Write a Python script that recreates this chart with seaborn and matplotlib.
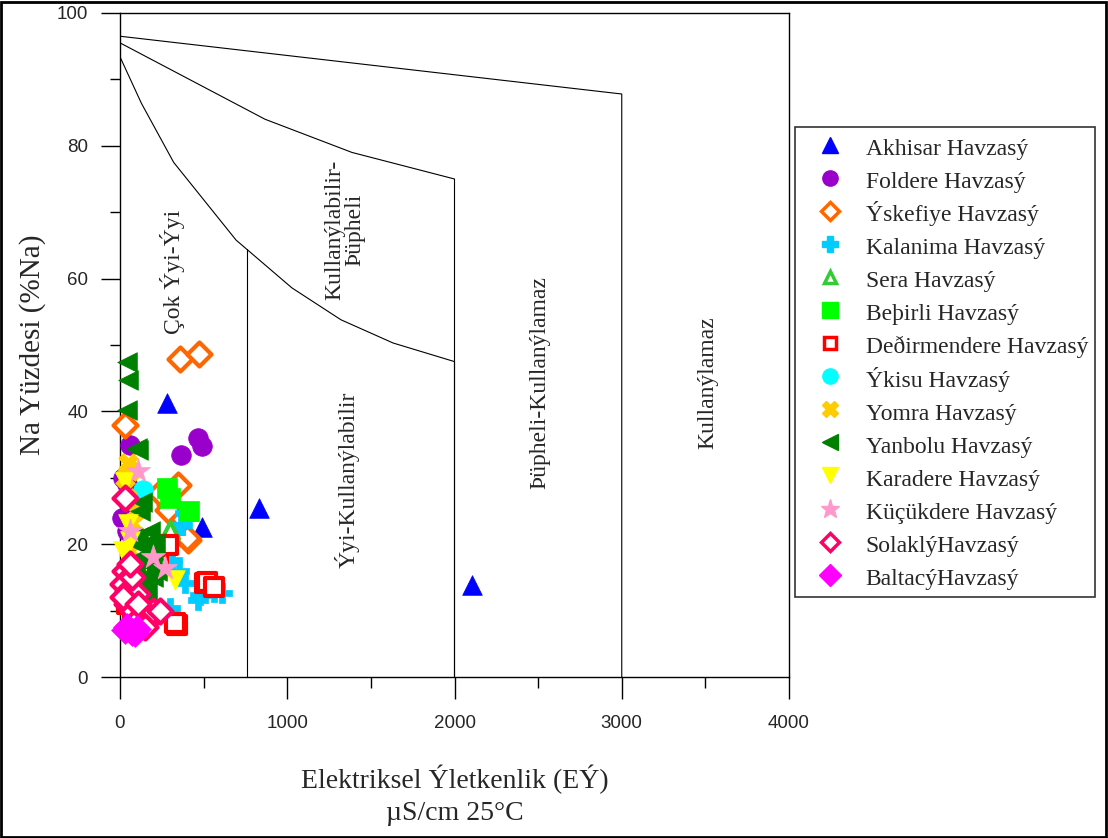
import matplotlib
matplotlib.use("Agg")
import matplotlib.pyplot as plt
import seaborn as sns
from matplotlib.patches import Rectangle
from matplotlib.lines import Line2D

# --- Wilcox boundary lines (EC, %Na) ---
line_top_ec = [0, 3000, 3000]
line_top_na = [96.5, 87.8, 0]
line_mid_ec = [0, 867, 1387, 2000, 2000]
line_mid_na = [95.5, 84, 79, 75, 0]
line_low_ec = [0, 128, 321, 694, 1028, 1321, 1633, 2000, 2000]
line_low_na = [93.4, 86.4, 77.5, 65.8, 58.6, 53.8, 50.3, 47.5, 0]
line_750_ec = [760, 760]
line_750_na = [64.5, 0]

# --- sample data per basin (EC uS/cm, Na %) ---
akhisar_ec = [281, 831, 2105, 490]
akhisar_na = [41.3, 25.4, 13.9, 22.6]

foldere_ec = [365, 466, 490, 60, 40, 30, 40, 20, 60, 10]
foldere_na = [33.4, 36.0, 34.8, 35.0, 29.0, 24.0, 22.0, 30.0, 27.0, 24.0]

iskefiye_ec = [359, 472, 30, 257, 347, 299, 341, 406, 239, 287, 400]
iskefiye_na = [47.9, 48.6, 38.0, 27.7, 28.9, 25.9, 24.7, 20.6, 27.7, 25.2, 20.9]

kalanima_ec = [610, 466, 389, 329, 311, 281, 389, 371, 329, 478, 406, 299, 560, 250, 350]
kalanima_na = [12.6, 11.6, 14.2, 9.0, 17.6, 20.2, 24.7, 22.9, 21.8, 12.3, 23.9, 10.4, 12.8, 18.5, 16.0]

sera_ec = [299, 197, 209]
sera_na = [22.1, 17.9, 10.1]

besirli_ec = [281, 300, 410]
besirli_na = [28.5, 27.0, 25.0]

degirmendere_ec = [508, 341, 520, 329, 287, 40, 80, 150, 200, 230, 560]
degirmendere_na = [14.2, 7.8, 14.3, 8.1, 19.9, 11.0, 9.0, 8.5, 10.0, 17.0, 13.5]

ikisu_ec = [137, 110]
ikisu_na = [28.2, 26.0]

yomra_ec = [50, 70, 40, 60, 90, 30, 110, 80, 60, 100]
yomra_na = [32.2, 23.2, 27.0, 19.0, 25.0, 30.0, 15.0, 12.0, 31.0, 21.0]

yanbolu_ec = [40, 50, 40, 100, 105, 130, 105, 209, 100, 150, 200, 120, 170, 90,
              140, 200, 110, 160, 130, 190, 220, 80, 180, 120]
yanbolu_na = [47.4, 44.7, 40.2, 34.5, 34.2, 26.4, 21.1, 20.2, 20.0, 20.0, 19.0, 18.0,
              17.0, 16.0, 15.0, 15.0, 14.0, 13.0, 12.0, 18.0, 16.0, 21.0, 22.0, 25.0]

karadere_ec = [329, 30, 50, 20, 60]
karadere_na = [14.6, 29.4, 23.0, 19.0, 20.5]

kucukdere_ec = [108, 269, 60, 200]
kucukdere_na = [31.0, 16.4, 22.0, 18.0]

solakli_ec = [30, 20, 50, 40, 80, 120, 160, 200, 100, 70, 150, 30, 240, 20, 60, 110]
solakli_na = [16.0, 14.0, 13.0, 11.0, 10.0, 9.0, 8.5, 10.0, 12.5, 15.0, 7.5, 27.0, 10.0, 12.0, 17.0, 11.0]

baltaci_ec = [90, 30, 70, 40, 100]
baltaci_na = [6.6, 7.1, 6.8, 7.5, 7.3]

groups = [
    ("Akhisar Havzasý", akhisar_ec, akhisar_na, "^", "#0000FF", True),
    ("Foldere Havzasý", foldere_ec, foldere_na, "o", "#9900CC", True),
    ("Ýskefiye Havzasý", iskefiye_ec, iskefiye_na, "D", "#FF6600", False),
    ("Kalanima Havzasý", kalanima_ec, kalanima_na, "P", "#00CCFF", True),
    ("Sera Havzasý", sera_ec, sera_na, "^", "#33CC33", False),
    ("Beþirli Havzasý", besirli_ec, besirli_na, "s", "#00FF00", True),
    ("Deðirmendere Havzasý", degirmendere_ec, degirmendere_na, "s", "#FF0000", False),
    ("Ýkisu Havzasý", ikisu_ec, ikisu_na, "o", "#00FFFF", True),
    ("Yomra Havzasý", yomra_ec, yomra_na, "X", "#FFCC00", True),
    ("Yanbolu Havzasý", yanbolu_ec, yanbolu_na, "<", "#008000", True),
    ("Karadere Havzasý", karadere_ec, karadere_na, "v", "#FFFF00", True),
    ("Küçükdere Havzasý", kucukdere_ec, kucukdere_na, "*", "#FF99CC", True),
    ("SolaklýHavzasý", solakli_ec, solakli_na, "D", "#FF0066", False),
    ("BaltacýHavzasý", baltaci_ec, baltaci_na, "D", "#FF00FF", True),
]

sns.set_style("white")
plt.rcParams["font.family"] = ["Liberation Serif", "DejaVu Serif"]

fig = plt.figure(figsize=(11.08, 8.38), dpi=100)
ax = fig.add_axes([0.1083, 0.1921, 0.6038, 0.7924])

for ex, ny in [(line_top_ec, line_top_na), (line_mid_ec, line_mid_na),
               (line_low_ec, line_low_na), (line_750_ec, line_750_na)]:
    ax.plot(ex, ny, color="black", lw=0.8)

handles = []
for label, ex, ny, mk, col, filled in groups:
    size = 330 if mk == "*" else 200
    if filled:
        sns.scatterplot(x=ex, y=ny, ax=ax, marker=mk, color=col, s=size,
                        edgecolor=col, linewidth=0.5, legend=False,
                        clip_on=False, zorder=3)
        h = Line2D([], [], ls="none", marker=mk, color=col, markeredgecolor=col,
                   markersize=14 if mk == "*" else 11)
    else:
        sns.scatterplot(x=ex, y=ny, ax=ax, marker=mk, s=size * 0.75,
                        facecolor="white", edgecolor=col, linewidth=3,
                        legend=False, clip_on=False, zorder=3)
        h = Line2D([], [], ls="none", marker=mk, markerfacecolor="white",
                   markeredgecolor=col, markeredgewidth=2.5, markersize=9)
    handles.append((h, label))

ax.set_xlim(0, 4000)
ax.set_ylim(0, 100)
ax.set_xticks(range(0, 4001, 1000))
ax.set_xticks(range(500, 4000, 1000), minor=True)
ax.set_yticks(range(0, 101, 20))
ax.set_yticks(range(10, 100, 20), minor=True)
ax.tick_params(bottom=True, left=True, which="both", color="black")
ax.tick_params(axis="x", which="major", direction="out", length=16, width=1, pad=11)
ax.tick_params(axis="x", which="minor", direction="out", length=8, width=1)
ax.tick_params(axis="y", which="major", direction="out", length=14, width=1, pad=9)
ax.tick_params(axis="y", which="minor", direction="out", length=7, width=1)
for t in ax.get_xticklabels() + ax.get_yticklabels():
    t.set_fontfamily("Liberation Sans")
    t.set_fontsize(13.5)
for sp in ax.spines.values():
    sp.set_color("black")
    sp.set_linewidth(1)

ax.set_ylabel("Na Yüzdesi (%Na)", fontsize=21, labelpad=8)
ax.set_xlabel("Elektriksel Ýletkenlik (EÝ)\nµS/cm 25°C", fontsize=20, labelpad=24,
              linespacing=1.35)

# zone labels
zone_kw = dict(rotation=90, ha="center", va="center", fontsize=17)
ax.text(311, 61, "Çok Ýyi-Ýyi", **zone_kw)
ax.text(1345, 67.3, "Kullanýlabilir-\nÞüpheli", linespacing=0.95, **zone_kw)
ax.text(1357, 29.7, "Ýyi-Kullanýlabilir", **zone_kw)
ax.text(2511, 44.3, "Þüpheli-Kullanýlamaz", **zone_kw)
ax.text(3516, 44.3, "Kullanýlamaz", **zone_kw)

leg = ax.legend([h for h, _ in handles], [l for _, l in handles],
                loc="upper left", bbox_to_anchor=(0.7175, 0.8484),
                bbox_transform=fig.transFigure, borderaxespad=0, fontsize=17,
                frameon=True, fancybox=False, edgecolor="black", borderpad=0.3,
                handlelength=2.4, handletextpad=0.3, handleheight=1.3,
                labelspacing=0.31)
leg.get_frame().set_linewidth(1.2)

fig.add_artist(Rectangle((0.001, 0.001), 0.997, 0.997, transform=fig.transFigure,
                         fill=False, edgecolor="black", lw=2))

fig.savefig("out.png", dpi=100)
